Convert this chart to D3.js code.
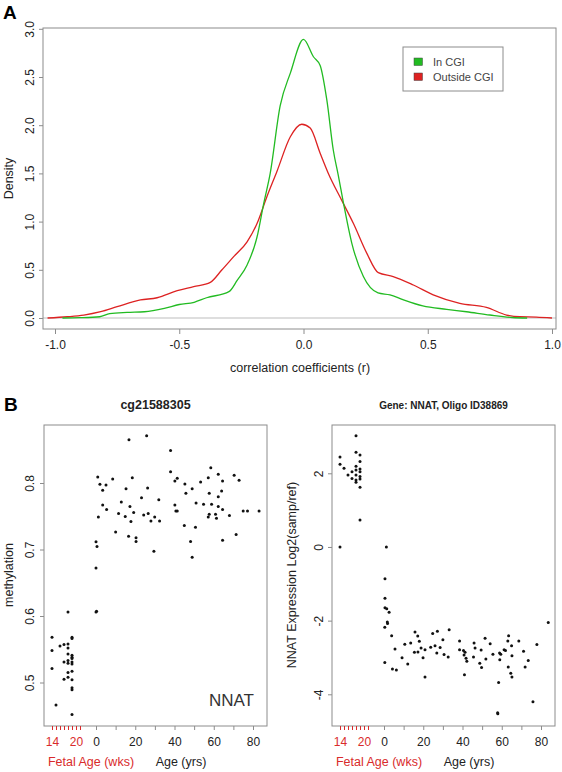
<!DOCTYPE html>
<html><head><meta charset="utf-8">
<script src="https://cdn.jsdelivr.net/npm/d3@7"></script>
<style>body{margin:0;background:#fff;} svg{display:block;font-family:"Liberation Sans",Arial,sans-serif;}</style>
</head><body><svg id="c" width="562" height="772"></svg>
<script>
// ---------- data ----------
const densR_CGI = [-0.97,-0.9,-0.82,-0.78,-0.71,-0.64,-0.56,-0.5,-0.44,-0.39,-0.3,-0.267,-0.227,-0.187,-0.16,-0.134,-0.094,-0.053,0,0.04,0.067,0.094,0.12,0.14,0.161,0.194,0.241,0.3,0.348,0.4,0.48,0.576,0.656,0.75,0.84,0.9];
const densY_CGI = [0,0.003,0.013,0.045,0.058,0.065,0.1,0.14,0.163,0.21,0.273,0.39,0.55,0.84,1.19,1.5,2.2,2.54,2.89,2.71,2.62,2.26,1.74,1.48,1.19,0.78,0.43,0.26,0.24,0.19,0.125,0.09,0.065,0.031,0.005,0];
const densR_out = [-1.03,-0.95,-0.884,-0.816,-0.75,-0.656,-0.589,-0.508,-0.442,-0.375,-0.328,-0.281,-0.227,-0.187,-0.147,-0.107,-0.053,-0.007,0.027,0.067,0.1,0.154,0.201,0.255,0.301,0.361,0.442,0.522,0.629,0.736,0.817,0.87,0.937,1.0];
const densY_out = [0,0.013,0.03,0.065,0.117,0.187,0.21,0.283,0.325,0.37,0.5,0.636,0.79,0.98,1.26,1.52,1.88,2.01,1.97,1.71,1.5,1.22,0.98,0.67,0.47,0.43,0.342,0.24,0.152,0.11,0.031,0.013,0.01,0];
const legendLabels = ["In CGI","Outside CGI"];
const seriesColors = ["#22bb22","#dd2222"];
const densXTicks = [-1,-0.5,0,0.5,1];
const densYTicks = [0,0.5,1,1.5,2,2.5,3];

const methFetalWeeks = [14,14,14,15,16,17,17,17,18,18,18,18,18,18,18,18,19,19,19,19,19,19,19,19,19,19,19,19];
const methFetalVals  = [0.568,0.548,0.521,0.466,0.555,0.557,0.531,0.505,0.606,0.558,0.552,0.543,0.533,0.529,0.515,0.508,0.568,0.566,0.541,0.538,0.536,0.531,0.528,0.517,0.504,0.492,0.489,0.452];
const methAges = [16.8,25.8,38,0.9,2,5.1,3.4,8.5,18.5,15.3,26.3,38,41.4,40.2,45.3,49,45.8,53.3,57.2,58.5,62.3,64.5,70.4,72.9,64,57.7,62.3,3.4,5.4,1.2,12.9,17.3,23.2,32,11.5,14.9,19.2,17.8,24.3,26.6,29.9,28,32.4,40.2,40.7,41.4,51,54.8,58.9,62.3,64.5,57.7,57.2,60.9,61.4,68,75,77.2,83.1,10,16.6,20.4,20.4,45,50.7,48.2,64.5,71.4,29.5,49,0,0.5,0,0,0.3];
const methVals = [0.865,0.871,0.849,0.809,0.798,0.797,0.789,0.806,0.808,0.7915,0.7925,0.817,0.807,0.803,0.7985,0.7915,0.7845,0.8015,0.808,0.823,0.813,0.803,0.8115,0.804,0.788,0.7845,0.7795,0.767,0.76,0.749,0.7715,0.7645,0.778,0.775,0.754,0.7495,0.7555,0.742,0.752,0.754,0.749,0.743,0.743,0.767,0.758,0.758,0.77,0.768,0.768,0.7645,0.76,0.753,0.749,0.753,0.747,0.751,0.758,0.758,0.758,0.7265,0.72,0.7175,0.712,0.736,0.7335,0.712,0.714,0.7225,0.6975,0.6885,0.7115,0.7045,0.672,0.606,0.607];

const exprFetalWeeks = [14,14,14,15,16,17,17,18,18,18,18,18,18,18,19,19,19,19,19,19,19,19];
const exprFetalVals  = [2.44,2.245,0.0,2.14,1.955,2.04,1.86,3.02,2.57,2.19,2.09,1.955,1.82,1.755,2.5,2.32,2.12,2.04,1.91,1.845,1.62,0.73];
const exprAges = [0.5,0.5,0.5,1.4,2.6,1.7,1.8,0.4,0.4,3.9,5.6,4.3,6.3,9.2,10.6,12.1,13.6,15.8,17.2,18,15.5,17.3,18.9,19.9,20.9,20.9,23.8,24.8,26,26.9,27.2,28.6,30,30.6,32.7,33.2,38.5,38.5,40.5,40.8,41.3,41.8,42.2,41,45.9,46.4,45.6,49.5,48.8,49.7,51.5,51.9,54.1,55.5,58.9,59.5,59,58.4,57.9,58,61.2,61.9,63.1,63.5,65,65.2,63.3,64.6,65.2,68.7,71.1,71.9,73.5,77.9,75.9,83.7,1.2];
const exprVals = [-0.86,-1.39,-1.65,-1.68,-1.77,-2.04,-2.08,-2.18,-3.14,-2.41,-2.77,-3.31,-3.34,-3.01,-2.64,-3.18,-2.61,-2.31,-2.42,-2.56,-2.86,-2.85,-2.74,-3.01,-2.79,-3.53,-2.72,-2.35,-2.68,-2.88,-2.29,-2.73,-2.52,-2.92,-2.99,-2.25,-2.55,-2.79,-2.81,-2.93,-2.86,-3.02,-3.1,-3.47,-2.61,-2.74,-2.99,-2.8,-3.16,-3.27,-2.48,-3.04,-2.63,-2.91,-2.88,-2.91,-3.06,-3.68,-4.5,-4.53,-2.79,-2.81,-2.55,-2.41,-2.68,-2.95,-3.26,-3.43,-3.53,-2.55,-2.83,-3.26,-3.08,-2.65,-4.2,-2.05,0.0];

const fetalTicks = [14,15,16,17,18,19,20,21];
const fetalLabels = [14,20];
const ageTicks = [0,10,20,30,40,50,60,70,80];
const ageLabels = [0,20,40,60,80];
const methYTicks = [0.5,0.6,0.7,0.8];
const exprYTicks = [-4,-2,0,2];

// ---------- drawing ----------
const svg = d3.select("#c");
const FRAME = "#8c8c8c", TXT = "#222", RED = "#d92b2b";
const hy = s => String(s).replace("\u2212","-");

function styleAxis(g){
  g.select(".domain").remove();
  g.selectAll(".tick line").attr("stroke", FRAME);
  g.selectAll(".tick text").attr("fill", TXT).attr("font-size", 12).attr("font-family", null);
}
function rotYLabels(g, off){
  g.selectAll(".tick text").attr("transform","rotate(-90)").attr("x",0).attr("y",-off)
   .attr("dy","0").attr("text-anchor","middle");
}

// Panel A
const ax = d3.scaleLinear().domain([-1,1]).range([55,552]);
const ay = d3.scaleLinear().domain([0,3]).range([318,28.8]);
svg.append("text").attr("x",3).attr("y",19).attr("font-size",19).attr("font-weight","bold").text("A");
svg.append("line").attr("x1",43).attr("x2",556).attr("y1",ay(0)).attr("y2",ay(0)).attr("stroke","#bdbdbd");
const lineA = d3.line().x(d=>ax(d[0])).y(d=>ay(d[1])).curve(d3.curveMonotoneX);
svg.append("path").datum(densR_out.map((r,i)=>[r,densY_out[i]])).attr("d",lineA).attr("fill","none").attr("stroke",seriesColors[1]).attr("stroke-width",1.3);
svg.append("path").datum(densR_CGI.map((r,i)=>[r,densY_CGI[i]])).attr("d",lineA).attr("fill","none").attr("stroke",seriesColors[0]).attr("stroke-width",1.3);
svg.append("rect").attr("x",43).attr("y",28).attr("width",513).attr("height",301).attr("fill","none").attr("stroke",FRAME);
svg.append("g").attr("transform","translate(0,329)")
  .call(d3.axisBottom(ax).tickValues(densXTicks).tickSize(5).tickFormat(d=>hy(d3.format(".1f")(d))))
  .call(styleAxis).call(g=>g.selectAll(".tick text").attr("y",16).attr("dy","0.35em"));
svg.append("g").attr("transform","translate(43,0)")
  .call(d3.axisLeft(ay).tickValues(densYTicks).tickSize(4).tickFormat(d3.format(".1f")))
  .call(styleAxis).call(g=>rotYLabels(g,9));
svg.append("text").attr("x",300).attr("y",372).attr("text-anchor","middle").attr("font-size",12.5).attr("fill",TXT).text("correlation coefficients (r)");
svg.append("text").attr("transform","translate(13,178.5) rotate(-90)").attr("text-anchor","middle").attr("font-size",12.5).attr("fill",TXT).text("Density");
// legend
const lg = svg.append("g");
lg.append("rect").attr("x",403).attr("y",47).attr("width",100).attr("height",44).attr("fill","#fff").attr("stroke",FRAME);
legendLabels.forEach((t,i)=>{
  lg.append("rect").attr("x",414).attr("y",58+i*15).attr("width",8.5).attr("height",7.5).attr("fill",seriesColors[i]).attr("stroke","#444").attr("stroke-width",0.5);
  lg.append("text").attr("x",433).attr("y",62+i*15).attr("dy","0.35em").attr("font-size",11).attr("fill","#444").text(t);
});

// Panel B
svg.append("text").attr("x",4).attr("y",411).attr("font-size",19).attr("font-weight","bold").text("B");

function scatterPanel(L, yTicks, yFmt, yScale, fetalW, fetalV, ages, vals, title, titleSize, ylabel, ylabX, tickOff){
  const T = 425, B = 726, W = 223;
  const xAge = d3.scaleLinear().domain([0,80]).range([L+52, L+209]);
  const xFet = d3.scaleLinear().domain([14,20]).range([L+8, L+32]);
  svg.append("rect").attr("x",L).attr("y",T).attr("width",W).attr("height",B-T).attr("fill","none").attr("stroke",FRAME);
  svg.append("text").attr("x",L+W/2).attr("y",405).attr("dy","0.35em").attr("text-anchor","middle")
    .attr("font-size",titleSize).attr("font-weight","bold").attr("fill",TXT).text(title);
  svg.append("g").selectAll("circle").data(fetalW.map((w,i)=>[w,fetalV[i]])).join("circle")
    .attr("cx",d=>xFet(d[0])).attr("cy",d=>yScale(d[1])).attr("r",1.5).attr("fill","#111");
  svg.append("g").selectAll("circle").data(ages.map((a,i)=>[a,vals[i]])).join("circle")
    .attr("cx",d=>xAge(d[0])).attr("cy",d=>yScale(d[1])).attr("r",1.5).attr("fill","#111");
  svg.append("g").attr("transform",`translate(0,${B})`)
    .call(d3.axisBottom(xAge).tickValues(ageTicks).tickSize(4).tickFormat(d=>ageLabels.includes(d)?d:""))
    .call(styleAxis).call(g=>g.selectAll(".tick text").attr("y",16).attr("dy","0.35em"));
  svg.append("g").attr("transform",`translate(0,${B})`)
    .call(d3.axisBottom(xFet).tickValues(fetalTicks).tickSize(4).tickFormat(d=>fetalLabels.includes(d)?d:""))
    .call(styleAxis).call(g=>{g.selectAll(".tick line").attr("stroke",RED); g.selectAll(".tick text").attr("fill",RED).attr("y",16).attr("dy","0.35em");});
  svg.append("g").attr("transform",`translate(${L},0)`)
    .call(d3.axisLeft(yScale).tickValues(yTicks).tickSize(4).tickFormat(d=>hy(yFmt(d))))
    .call(styleAxis).call(g=>rotYLabels(g,tickOff));
  svg.append("text").attr("x",L+47).attr("y",762).attr("dy","0.35em").attr("text-anchor","middle").attr("font-size",12.5).attr("fill",RED).text("Fetal Age (wks)");
  svg.append("text").attr("x",L+137).attr("y",762).attr("dy","0.35em").attr("text-anchor","middle").attr("font-size",12.5).attr("fill",TXT).text("Age (yrs)");
  svg.append("text").attr("transform",`translate(${ylabX},575) rotate(-90)`).attr("text-anchor","middle").attr("font-size",12.5).attr("fill",TXT).text(ylabel);
}

const my = d3.scaleLinear().domain([0.5,0.8]).range([682.5,483]);
scatterPanel(44, methYTicks, d3.format(".1f"), my, methFetalWeeks, methFetalVals, methAges, methVals, "cg21588305", 12.5, "methylation", 12.5, 10);
svg.append("text").attr("x",254).attr("y",706).attr("text-anchor","end").attr("font-size",17).attr("fill","#333").text("NNAT");

const ey = d3.scaleLinear().domain([-4,2]).range([694.3,473.3]);
scatterPanel(332, exprYTicks, d3.format("d"), ey, exprFetalWeeks, exprFetalVals, exprAges, exprVals, "Gene: NNAT, Oligo ID38869", 10, "NNAT Expression Log2(samp/ref)", 296, 9);
</script></body></html>
